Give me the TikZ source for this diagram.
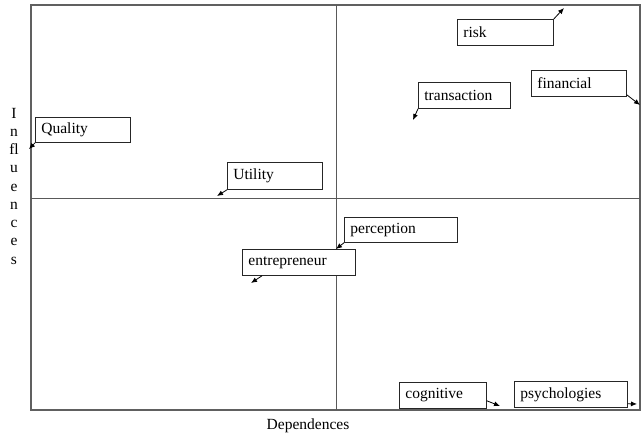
\documentclass[tikz,border=0pt]{standalone}
\usepackage{fontspec}
\setmainfont{Liberation Serif}
\usetikzlibrary{arrows.meta}

\begin{document}
\begin{tikzpicture}[x=1pt, y=-1pt,
    font=\fontsize{15.5}{18}\selectfont,
    lbox/.style={draw=black!85, line width=0.8pt, fill=white, anchor=north west,
      inner xsep=6pt, inner ysep=0pt, minimum height=26pt, text width=#1, align=left},
    arr/.style={-{Latex[length=6pt,width=5pt]}, line width=0.8pt},
    frame/.style={draw=gray!75!black, line width=1.6pt},
    midline/.style={draw=gray!70!black, line width=0.8pt}]
    \useasboundingbox (0,0) rectangle (641,437);
    % quadrants
    \draw[frame] (31,5) rectangle (640,410);
    \draw[midline] (336,5) -- (336,410);
    \draw[midline] (31,198) -- (640,198);
    % axis labels
    \node[align=center, font=\fontsize{15.5}{18.25}\selectfont] (ylab) at (14,186) {I\\n\\fl\\u\\e\\n\\c\\e\\s};
    \node (xlab) at (308,426) {Dependences};
    % boxes
    \node[lbox=84pt] (risk) at (457,19) {risk};
    \node[lbox=80pt] (trans) at (418,82) {transaction};
    \node[lbox=83pt] (fin) at (531,70) {financial};
    \node[lbox=83pt, minimum height=25pt] (qual) at (35,117) {Quality};
    \node[lbox=83pt, minimum height=27pt] (util) at (227,162) {Utility};
    \node[lbox=101pt, minimum height=25pt] (perc) at (344,217) {perception};
    \node[lbox=101pt] (entr) at (242,249) {entrepreneur};
    \node[lbox=75pt] (cog) at (399,382) {cognitive};
    \node[lbox=101pt] (psy) at (514,381) {psychologies};
    % free ends
    \coordinate (riskend) at (564,8);
    \coordinate (transend) at (413,120);
    \coordinate (finend) at (640,105);
    \coordinate (qualend) at (29,149);
    \coordinate (utilend) at (217,196);
    \coordinate (percend) at (336,249);
    \coordinate (entrend) at (251,283);
    \coordinate (cogend) at (500,406);
    \coordinate (psyend) at (637,404);
    % arrows
    \draw[arr] (risk.north east) -- (riskend);
    \draw[arr] (trans.south west) -- (transend);
    \draw[arr] ([yshift=2pt]fin.south east) -- (finend);
    \draw[arr] (qual.south west) -- (qualend);
    \draw[arr] (util.south west) -- (utilend);
    \draw[arr] (perc.south west) -- (percend);
    \draw[arr] ([xshift=20pt]entr.south west) -- (entrend);
    \draw[arr] ([yshift=8pt]cog.south east) -- (cogend);
    \draw[arr] ([yshift=4pt]psy.south east) -- (psyend);
\end{tikzpicture}
\end{document}
